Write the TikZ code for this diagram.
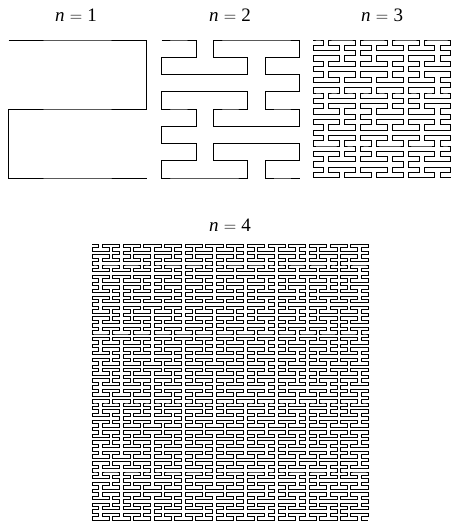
\documentclass[tikz,border=0pt]{standalone}
\usepackage{fontspec}
\setmainfont{Liberation Serif}
\usetikzlibrary{lindenmayersystems}
\pgfdeclarelindenmayersystem{Peano}{
  \rule{X -> XFYFX+F+YFXFY-F-XFYFX}
  \rule{Y -> YFXFY-F-XFYFX+F+YFXFY}
}
\tikzset{
  curve/.style={line width=0.9pt, line join=miter, black},
  lab/.style={anchor=base, inner sep=0pt, font=\fontsize{19}{19}\selectfont},
}
\newcommand{\nlab}[1]{\textit{n}\;$=$\;#1}
\begin{document}
\begin{tikzpicture}[x=1pt,y=1pt]
\useasboundingbox (0,0) rectangle (451,524);
% labels
\node[lab] (l1) at (76,502.5) {\nlab{1}};
\node[lab] (l2) at (230,502.5) {\nlab{2}};
\node[lab] (l3) at (382,502.5) {\nlab{3}};
\node[lab] (l4) at (230,292) {\nlab{4}};
% curves
\begin{scope}[shift={(8.5,484)}, yscale=-1]
  \draw[curve, lindenmayer system={Peano, axiom=X, order=1, step=69pt, angle=90}] lindenmayer system;
\end{scope}
\begin{scope}[shift={(161.5,484)}, yscale=-1]
  \draw[curve, lindenmayer system={Peano, axiom=X, order=2, step=17.25pt, angle=90}] lindenmayer system;
\end{scope}
\begin{scope}[shift={(313,484)}, yscale=-1]
  \draw[curve, lindenmayer system={Peano, axiom=X, order=3, step=5.3pt, angle=90}] lindenmayer system;
\end{scope}
\begin{scope}[shift={(92,279.7)}, yscale=-1]
  \draw[curve, lindenmayer system={Peano, axiom=X, order=4, step=3.45pt, angle=90}] lindenmayer system;
\end{scope}
\end{tikzpicture}
\end{document}
